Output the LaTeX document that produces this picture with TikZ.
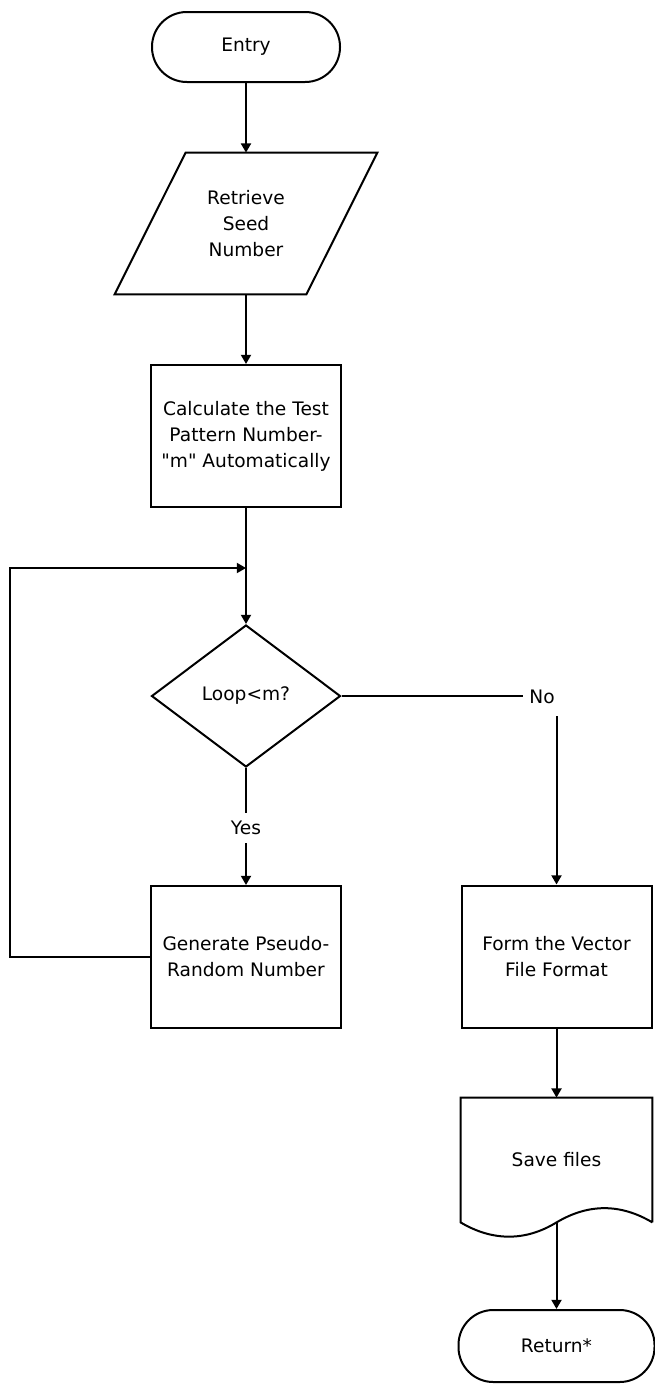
\documentclass[tikz,border=0pt]{standalone}
\usepackage{fontspec}
\setmainfont{DejaVu Sans}[Ligatures=TeXOff]
\usetikzlibrary{shapes.geometric,arrows.meta}

\begin{document}
\begin{tikzpicture}[
  x=0.5pt, y=-0.5pt,
  font=\fontsize{9.3}{13}\selectfont,
  every node/.style={align=center, inner sep=0pt},
  outline/.style={line width=1pt},
  terminal/.style={outline, draw, rectangle, rounded corners=17.4pt,
                   minimum width=94pt, minimum height=35pt},
  procbox/.style={outline, draw, rectangle, minimum width=95pt, minimum height=71pt},
  decision/.style={outline, draw, diamond, minimum width=94.5pt, minimum height=71pt},
  flow/.style={line width=1pt, -{Triangle[width=5pt,length=4.6pt]}},
  tag/.style={fill=white, inner xsep=2pt, inner ysep=4pt}
]
\useasboundingbox (0,0) rectangle (654,1392);

% left column
\node[terminal] (entry) at (246,47) {Entry};

\node[minimum width=95.5pt, minimum height=70.5pt] (seed) at (246,223.5)
  {Retrieve\\Seed\\Number};
\draw[outline] ([xshift=17.75pt]seed.north west) -- ([xshift=17.75pt]seed.north east)
  -- ([xshift=-17.75pt]seed.south east) -- ([xshift=-17.75pt]seed.south west) -- cycle;

\node[procbox] (calc) at (246,436)
  {Calculate the Test\\Pattern Number-\\"m" Automatically};

\node[decision] (loop) at (246,696) {Loop<m?};

\node[procbox] (gen) at (246,957) {Generate Pseudo-\\Random Number};

% right column
\node[procbox] (form) at (556.5,956.5) {Form the Vector\\File Format};

\node[minimum width=95.5pt, minimum height=62pt] (save) at (556.5,1160) {Save files};
\draw[outline] (save.south east) -- (save.north east) -- (save.north west) -- (save.south west)
  .. controls +(32,19) and +(-31,19) .. (save.south)
  .. controls +(32,-19) and +(-32,-19) .. (save.south east);

\node[terminal, minimum width=98pt, minimum height=36pt] (ret) at (556.5,1346) {Return*};

% connectors
\coordinate (join) at (246,568);
\draw[flow] (entry) -- (seed);
\draw[flow] (seed) -- (calc);
\draw[flow] (calc) -- (loop);
\draw[flow] (gen.west) -- ++(-140,0) |- (join);

\draw[flow] (loop.south) -- (gen.north)
  node[tag, pos=0.51] (yes) {Yes};
\draw[flow] (loop.east) -| (form.north);
\node[tag, inner xsep=3pt, inner ysep=6pt] (no) at (542,697) {No};

\draw[flow] (form) -- (save);
\draw[flow] (save.south) -- (ret.north);
\end{tikzpicture}
\end{document}
